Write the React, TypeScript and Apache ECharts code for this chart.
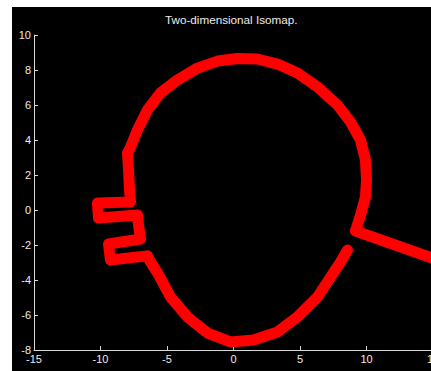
import React, { useEffect, useRef } from "react";
import * as echarts from "echarts";

const titleText = "Two-dimensional Isomap.";
const xTicks = { min: -15, max: 15, interval: 5 };
const yTicks = { min: -8, max: 10, interval: 2 };

// embedding curve (x, y)
const pathX = [
  8.57, 8.05, 7.5, 6.32, 4.81, 3.31, 1.5, -0.23, -1.95, -3.46, -4.74, -5.71, -6.24, -6.47,
  -9.25, -9.4, -6.99, -7.14, -7.22, -10.15, -10.23, -7.74, -7.82, -7.89, -7.97,
  -7.74, -7.22, -6.47, -5.49, -4.21, -2.71, -1.2, 0.3, 1.8, 3.31, 4.81, 6.32, 7.82, 8.8, 9.55, 9.92, 10.0, 9.92, 9.55, 9.17,
  15.2,
];
const pathY = [
  -2.29, -2.97, -3.6, -4.97, -6.11, -6.97, -7.43, -7.54, -7.03, -6.11, -4.97, -3.6, -2.97, -2.62,
  -2.86, -1.94, -1.66, -0.86, -0.29, -0.46, 0.4, 0.46, 1.14, 2.29, 3.26,
  3.6, 4.57, 5.71, 6.69, 7.43, 8.11, 8.51, 8.66, 8.63, 8.34, 7.83, 7.03, 6.0, 5.03, 4.0, 2.86, 1.71, 0.74, -0.29, -1.2,
  -2.82,
];

export default function App() {
  const ref = useRef<HTMLDivElement>(null);
  useEffect(() => {
    if (!ref.current) return;
    const chart = echarts.init(ref.current, null, { renderer: "svg" });
    const data = pathX.map((x, i) => [x, pathY[i]]);
    const axisCommon = {
      axisLine: { show: true, onZero: false, lineStyle: { color: "#d8d8d8", width: 1 } },
      axisTick: { show: true, inside: true, length: 4, lineStyle: { color: "#d8d8d8" } },
      axisLabel: { color: "#ececec", fontSize: 11, fontFamily: "Liberation Sans, Arial, sans-serif", margin: 3 },
      splitLine: { show: false },
    };
    chart.setOption({
      animation: false,
      backgroundColor: "#000000",
      grid: { left: 22, right: -2, top: 28, bottom: 21, containLabel: false, outerBoundsMode: "none" },
      xAxis: { type: "value", ...xTicks, ...axisCommon },
      yAxis: { type: "value", ...yTicks, ...axisCommon },
      graphic: [
        {
          type: "text",
          left: 153,
          top: 6,
          style: {
            text: titleText,
            fill: "#ececec",
            fontSize: 11.7,
            fontFamily: "Liberation Sans, Arial, sans-serif",
          },
        },
      ],
      series: [
        {
          type: "line",
          data,
          showSymbol: false,
          symbol: "none",
          clip: true,
          lineStyle: { color: "#ff0000", width: 11, cap: "round", join: "round" },
          smooth: false,
        },
      ],
    });
    return () => chart.dispose();
  }, []);
  return (
    <div style={{ position: "absolute", left: 0, top: 0, width: 431, height: 371, background: "#ffffff" }}>
      <div ref={ref} style={{ position: "absolute", left: 12, top: 7, width: 419, height: 364 }} />
    </div>
  );
}
